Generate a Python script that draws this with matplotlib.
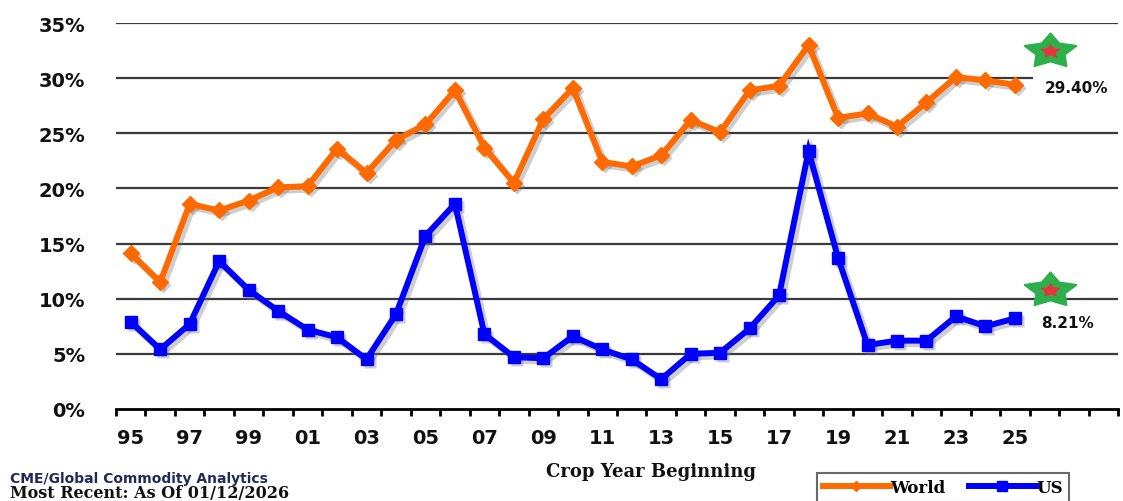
import matplotlib
matplotlib.use("Agg")
import numpy as np
import matplotlib.pyplot as plt
import matplotlib.transforms as mtransforms
from matplotlib.path import Path
from matplotlib.lines import Line2D

years = ["95", "96", "97", "98", "99", "00", "01", "02", "03", "04", "05", "06", "07", "08", "09",
         "10", "11", "12", "13", "14", "15", "16", "17", "18", "19", "20", "21", "22", "23", "24", "25"]
world = [14.1, 11.5, 18.6, 18.0, 18.9, 20.1, 20.2, 23.6, 21.4, 24.4, 25.8, 28.9, 23.7, 20.5, 26.3,
         29.1, 22.4, 22.0, 23.0, 26.2, 25.1, 28.9, 29.3, 33.0, 26.4, 26.8, 25.6, 27.8, 30.1, 29.8, 29.4]
us = [7.9, 5.4, 7.7, 13.4, 10.8, 8.9, 7.2, 6.5, 4.5, 8.6, 15.7, 18.6, 6.8, 4.7, 4.6,
      6.6, 5.4, 4.5, 2.7, 5.0, 5.1, 7.3, 10.3, 23.4, 13.7, 5.8, 6.2, 6.2, 8.4, 7.5, 8.21]
tick_labels = ["95", "97", "99", "01", "03", "05", "07", "09", "11", "13", "15", "17", "19", "21", "23", "25"]
yticks = [0, 5, 10, 15, 20, 25, 30, 35]
star_world = 32.45
star_us = 10.8
last_world_label = "29.40%"
last_us_label = "8.21%"

W, H = 1123, 502
fig = plt.figure(figsize=(W / 100, H / 100), dpi=100)
ax = fig.add_axes([116 / W, (H - 410) / H, (1118 - 116) / W, (410 - 24) / H])

x = list(range(len(years)))
n_cat = 34

for v in yticks[1:]:
    ax.axhline(v, color="#3a3a3a", lw=1.6, zorder=1)

# drop shadows (offset copies)
shadow_tr = mtransforms.offset_copy(ax.transData, fig=fig, x=3, y=-3, units="dots")
for series, mk, ms in [(world, "D", 8), (us, "s", 8.5)]:
    ax.plot(x, series, color="0.45", alpha=0.35, lw=5.0, marker=mk, ms=ms, mec="none",
            transform=shadow_tr, zorder=2, solid_joinstyle="miter")

ax.plot(x, world, color="#FF6A00", lw=4.3, marker="D", ms=8, mec="#FF6A00", zorder=3,
        solid_joinstyle="miter")
ax.plot(x, us, color="#0000FF", lw=4.3, marker="s", ms=8.5, mec="#0000FF", zorder=3,
        solid_joinstyle="miter")


def flat_star(sx=1.5, inner=0.5):
    ang = np.pi / 2 + np.arange(10) * np.pi / 5
    r = np.where(np.arange(10) % 2 == 0, 1.0, inner)
    v = np.column_stack([r * np.cos(ang) * sx, r * np.sin(ang)])
    v = np.vstack([v, v[:1]])
    return Path(v, closed=True)


star_big = flat_star(1.5, 0.55)
star_small = flat_star(1.45, 0.5)
sx = 31.2
for sv in [star_world, star_us]:
    ax.plot([sx], [sv], marker=star_big, ms=37, color="#2DB04B", mec="#2DB04B", mew=1.5,
            zorder=4, clip_on=False)
    ax.plot([sx], [sv], marker=star_small, ms=13, color="#E8343C", mec="#E8343C", zorder=5,
            clip_on=False)

ax.text(31.0, world[-1] - 0.25, last_world_label, fontsize=11, fontweight="bold", va="center",
        ha="left", color="#111111", zorder=6,
        bbox=dict(facecolor="white", edgecolor="none", pad=8))
ax.text(30.9, us[-1] - 0.35, last_us_label, fontsize=11, fontweight="bold", va="center",
        ha="left", color="#111111", zorder=6,
        bbox=dict(facecolor="white", edgecolor="none", pad=6))

ax.set_xlim(-0.5, n_cat - 0.5)
ax.set_ylim(0, 35)
ax.set_yticks(yticks)
ax.set_yticklabels([f"{v}%" for v in yticks], fontsize=14, fontweight="bold", color="#111111")
ax.tick_params(axis="y", length=0, pad=22)

ax.set_xticks([i - 0.5 for i in range(n_cat + 1)], minor=False)
ax.set_xticklabels([])
ax.tick_params(axis="x", which="major", direction="out", length=5, width=2, color="black")
ax.set_xticks([years.index(t) for t in tick_labels], minor=True)
ax.set_xticklabels(tick_labels, minor=True, fontsize=14, fontweight="bold", color="#111111")
ax.tick_params(axis="x", which="minor", length=0, pad=14)

for s in ["top", "right", "left"]:
    ax.spines[s].set_visible(False)
ax.spines["bottom"].set_linewidth(2)
ax.spines["bottom"].set_color("black")
ax.spines["bottom"].set_zorder(2.5)

fig.text(651 / W, (H - 472) / H, "Crop Year Beginning", ha="center", va="center",
         fontsize=13, fontweight="bold", family="DejaVu Serif", color="#111111")
fig.text(10 / W, (H - 479) / H, "CME/Global Commodity Analytics", ha="left", va="center",
         fontsize=10, fontweight="bold", color="#1F2A5A")
fig.text(10 / W, (H - 493.5) / H, "Most Recent: As Of 01/12/2026", ha="left", va="center",
         fontsize=11.5, fontweight="bold", family="DejaVu Serif", color="#111111")

handles = [Line2D([], [], color="#FF6A00", lw=4.3, marker="D", ms=5),
           Line2D([], [], color="#0000FF", lw=4.3, marker="s", ms=7)]
leg = fig.legend(handles, ["World", "US"], loc="upper left", bbox_to_anchor=(817 / W, (H - 474) / H),
                 ncol=2, frameon=True, fancybox=False, edgecolor="#444444", handlelength=4.0,
                 handletextpad=0.05, columnspacing=1.4, borderpad=0.35, borderaxespad=0,
                 prop=dict(family="DejaVu Serif", weight="bold", size=12))
leg.get_frame().set_linewidth(1.5)

fig.savefig("out.png", dpi=100)
